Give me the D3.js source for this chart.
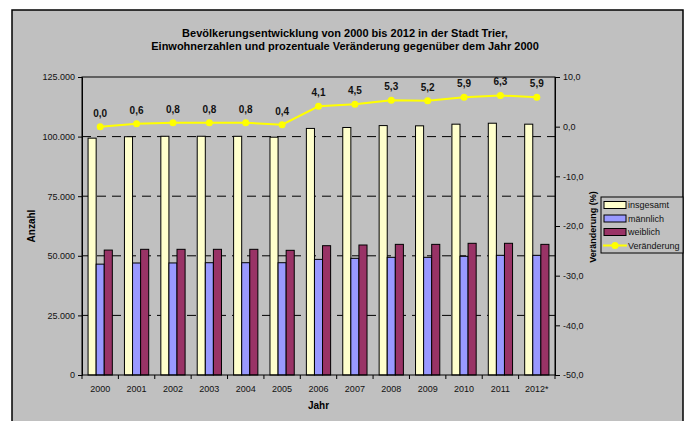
<!DOCTYPE html>
<html>
<head>
<meta charset="utf-8">
<script src="https://cdn.jsdelivr.net/npm/d3@7"></script>
<style>
  body { margin: 0; background: #fff; }
  svg { display: block; font-family: "Liberation Sans", Arial, sans-serif; }
</style>
</head>
<body>
<div id="chart"></div>
<script>
// Data
var years = ["2000", "2001", "2002", "2003", "2004", "2005", "2006", "2007", "2008", "2009", "2010", "2011", "2012*"];
var insgesamt = [99350, 99950, 100140, 100150, 100130, 99750, 103430, 103820, 104620, 104520, 105210, 105610, 105210];
var maennlich = [46500, 46980, 47000, 47100, 47100, 47100, 48500, 48940, 49360, 49360, 49790, 50200, 50200];
var weiblich = [52400, 52720, 52720, 52720, 52720, 52300, 54240, 54530, 54800, 54800, 55240, 55240, 54800];
var veraenderung = [0.0, 0.6, 0.8, 0.8, 0.8, 0.4, 4.1, 4.5, 5.3, 5.2, 5.9, 6.3, 5.9];
var leftTicks = [0, 25000, 50000, 75000, 100000, 125000];
var rightTicks = [10, 0, -10, -20, -30, -40, -50];
var seriesNames = ["insgesamt", "männlich", "weiblich"];
var seriesColors = ["#FFFFCC", "#9999FF", "#993366"];

var svgWidth = 689;
var svgHeight = 421;

// plot area
var plot = { left: 82, top: 77, right: 555, bottom: 375 };

var svg = d3.select("#chart")
    .append("svg")
    .attr("width", svgWidth)
    .attr("height", svgHeight);

// chart frame
svg.append("rect")
    .attr("x", 12).attr("y", 10)
    .attr("width", 671).attr("height", 430)
    .attr("fill", "#C0C0C0")
    .attr("stroke", "#000")
    .attr("stroke-width", 1.5);

// title
var title = svg.append("text")
    .attr("text-anchor", "middle")
    .attr("font-size", 11)
    .attr("font-weight", "bold")
    .attr("fill", "#000");
title.append("tspan").attr("x", 345).attr("y", 37)
    .text("Bevölkerungsentwicklung von 2000 bis 2012 in der Stadt Trier,");
title.append("tspan").attr("x", 345).attr("y", 50)
    .text("Einwohnerzahlen und prozentuale Veränderung gegenüber dem Jahr 2000");

// Scales
var x = d3.scaleBand()
    .domain(years)
    .range([plot.left, plot.right])
    .paddingInner(0)
    .paddingOuter(0);

var inner = d3.scaleBand()
    .domain(seriesNames)
    .range([0, x.bandwidth()])
    .paddingOuter(0.75)
    .paddingInner(0);

var yLeft = d3.scaleLinear()
    .domain([0, 125000])
    .range([plot.bottom, plot.top]);

var yRight = d3.scaleLinear()
    .domain([-50, 10])
    .range([plot.bottom, plot.top]);

var de = d3.formatLocale({ decimal: ",", thousands: ".", grouping: [3], currency: ["", "€"], minus: "-" });
var fmtLeft = de.format(",.0f");
var fmtRight = de.format(".1f");

// gridlines
svg.append("g")
    .selectAll("line")
    .data(leftTicks.filter(d => d > 0 && d < 125000))
    .join("line")
    .attr("x1", plot.left).attr("x2", plot.right)
    .attr("y1", d => yLeft(d)).attr("y2", d => yLeft(d))
    .attr("stroke", "#000")
    .attr("stroke-dasharray", "9,6");

// bars
var seriesData = [insgesamt, maennlich, weiblich];
var barGroups = svg.append("g")
    .selectAll("g")
    .data(seriesNames)
    .join("g")
    .attr("fill", (d, i) => seriesColors[i]);

barGroups.selectAll("rect")
    .data((s, i) => seriesData[i].map((v, j) => ({ year: years[j], value: v, s: s })))
    .join("rect")
    .attr("x", d => x(d.year) + inner(d.s))
    .attr("y", d => yLeft(d.value))
    .attr("width", inner.bandwidth())
    .attr("height", d => plot.bottom - yLeft(d.value))
    .attr("stroke", "#000")
    .attr("stroke-width", 1);

// plot area border
svg.append("rect")
    .attr("x", plot.left).attr("y", plot.top)
    .attr("width", plot.right - plot.left)
    .attr("height", plot.bottom - plot.top)
    .attr("fill", "none")
    .attr("stroke", "#000");

// Axes
var leftAxis = d3.axisLeft(yLeft)
    .tickValues(leftTicks)
    .tickSize(4)
    .tickFormat(d => fmtLeft(d));
var gLeft = svg.append("g")
    .attr("transform", `translate(${plot.left},0)`)
    .call(leftAxis);

var rightAxis = d3.axisRight(yRight)
    .tickValues(rightTicks)
    .tickSize(5)
    .tickPadding(3)
    .tickFormat(d => fmtRight(d));
var gRight = svg.append("g")
    .attr("transform", `translate(${plot.right},0)`)
    .call(rightAxis);

var bottomAxis = d3.axisBottom(x)
    .tickSize(0)
    .tickPadding(11);
var gBottom = svg.append("g")
    .attr("transform", `translate(0,${plot.bottom})`)
    .call(bottomAxis);

// category separators on x axis
svg.append("g")
    .selectAll("line")
    .data(years.concat(["end"]))
    .join("line")
    .attr("x1", (d, i) => i < years.length ? x(d) : plot.right)
    .attr("x2", (d, i) => i < years.length ? x(d) : plot.right)
    .attr("y1", plot.bottom).attr("y2", plot.bottom + 4)
    .attr("stroke", "#000");

[gLeft, gRight, gBottom].forEach(g => {
    g.selectAll(".domain").attr("stroke", "#000");
    g.selectAll(".tick line").attr("stroke", "#000");
    g.selectAll("text")
        .attr("font-size", 9)
        .attr("fill", "#111")
        .attr("font-family", "Liberation Sans, Arial, sans-serif");
});
gBottom.select(".domain").remove();

// line series
var line = d3.line()
    .x((d, i) => x(years[i]) + x.bandwidth() / 2)
    .y(d => yRight(d));

svg.append("path")
    .datum(veraenderung)
    .attr("d", line)
    .attr("fill", "none")
    .attr("stroke", "#FFFF00")
    .attr("stroke-width", 2);

svg.append("g")
    .selectAll("circle")
    .data(veraenderung)
    .join("circle")
    .attr("cx", (d, i) => x(years[i]) + x.bandwidth() / 2)
    .attr("cy", d => yRight(d))
    .attr("r", 3.5)
    .attr("fill", "#FFFF00");

svg.append("g")
    .selectAll("text")
    .data(veraenderung)
    .join("text")
    .attr("x", (d, i) => x(years[i]) + x.bandwidth() / 2)
    .attr("y", d => yRight(d) - 10)
    .attr("text-anchor", "middle")
    .attr("font-size", 10)
    .attr("font-weight", "bold")
    .attr("fill", "#111")
    .text(d => fmtRight(d));

// axis titles
svg.append("text")
    .attr("transform", "translate(35,226) rotate(-90)")
    .attr("text-anchor", "middle")
    .attr("font-size", 10)
    .attr("font-weight", "bold")
    .text("Anzahl");

svg.append("text")
    .attr("transform", "translate(596,227) rotate(-90)")
    .attr("text-anchor", "middle")
    .attr("font-size", 9)
    .attr("font-weight", "bold")
    .text("Veränderung (%)");

svg.append("text")
    .attr("x", (plot.left + plot.right) / 2)
    .attr("y", 409)
    .attr("text-anchor", "middle")
    .attr("font-size", 10)
    .attr("font-weight", "bold")
    .text("Jahr");

// legend
var legend = svg.append("g").attr("transform", "translate(601,197)");
legend.append("rect")
    .attr("width", 82).attr("height", 56)
    .attr("fill", "#C0C0C0")
    .attr("stroke", "#000");

var legendItems = seriesNames.concat(["Veränderung"]);
var rowY = d3.scalePoint().domain(legendItems).range([8, 48.5]);

legendItems.forEach((name, i) => {
    var yy = rowY(name);
    if (i < 3) {
        legend.append("rect")
            .attr("x", 3).attr("y", yy - 3.5)
            .attr("width", 22).attr("height", 7)
            .attr("fill", seriesColors[i])
            .attr("stroke", "#000");
    } else {
        legend.append("line")
            .attr("x1", 2).attr("x2", 26)
            .attr("y1", yy).attr("y2", yy)
            .attr("stroke", "#FFFF00").attr("stroke-width", 2);
        legend.append("circle")
            .attr("cx", 14).attr("cy", yy).attr("r", 3.5)
            .attr("fill", "#FFFF00");
    }
    legend.append("text")
        .attr("x", 27).attr("y", yy + 3.2)
        .attr("font-size", 9)
        .attr("fill", "#111")
        .text(name);
});
</script>
</body>
</html>
